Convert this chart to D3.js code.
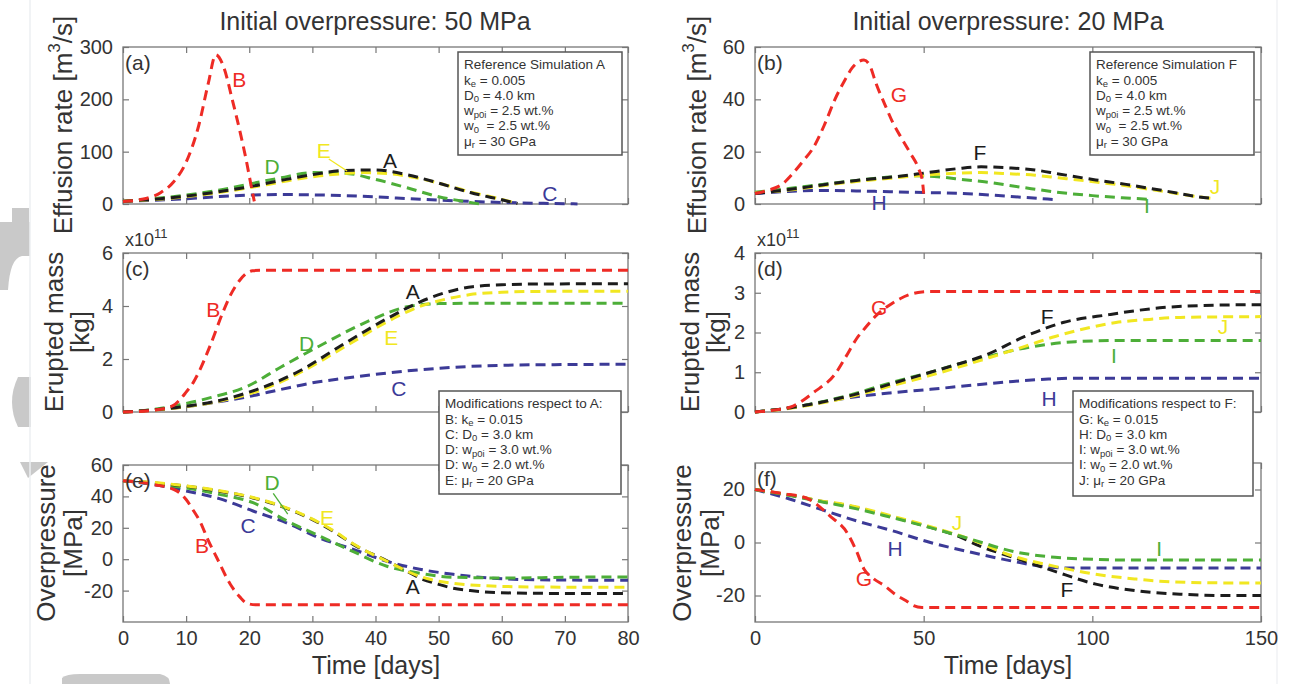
<!DOCTYPE html>
<html>
<head>
<meta charset="utf-8">
<title>Effusion rate, erupted mass and overpressure</title>
<script src="https://d3js.org/d3.v7.min.js"></script>
<style>
  body { margin: 0; background: #fff; }
  text { font-family: 'Liberation Sans', Arial, sans-serif; fill: #333; }
  .tick text { font-size: 20px; fill: #333; }
  .tick line { stroke: #777; stroke-width: 1.2px; }
</style>
</head>
<body>
<div id="chart"></div>
<script>

// ---- 50 MPa runs (A reference, B..E modified), time in days ----
var rateA = [[0,5],[10,15],[20,33],[25,45],[30,56],[35,64],[40,65],[45,56],[50,40],[55,22],[60,8],[62.5,1]];
var rateB = [[0,5],[3,9],[6,22],[8,42],[10,80],[12,150],[13.5,230],[14.7,285],[16,260],[17.3,200],[18.5,140],[19.5,85],[20.3,35],[20.8,5]];
var rateC = [[0,5],[10,10],[15,14],[20,17],[25,18],[30,17.5],[35,16],[40,13.5],[45,10.5],[50,7.5],[55,5],[60,3],[65,1.5],[70,0.7],[72,0]];
var rateD = [[0,5],[10,17],[15,26],[20,38],[25,50],[30,60],[35,59],[40,47],[45,31],[50,14],[55,3],[56.5,0]];
var rateE = [[0,5],[10,14],[20,31],[25,42],[30,52],[35,58],[38,60],[42,58],[46,51],[50,40],[55,23],[60,9],[62.5,1]];

// erupted mass, x10^11 kg
var massA = [[0,0],[5,0.08],[10,0.22],[15,0.42],[19.6,0.72],[27.5,1.49],[35.4,2.63],[41.8,3.52],[47,4.15],[51,4.5],[55.4,4.73],[60,4.8],[65,4.83],[80,4.84]];
var massB = [[0,0],[5,0.07],[8,0.25],[9,0.46],[10,0.75],[11.1,1.1],[12,1.5],[13.8,2.5],[15.8,3.75],[17,4.4],[18.5,4.97],[19.5,5.22],[20.5,5.33],[22,5.35],[80,5.35]];
var massC = [[0,0],[5,0.07],[10,0.2],[15,0.38],[19.6,0.57],[25,0.85],[30,1.1],[35,1.27],[40,1.42],[45,1.55],[50,1.65],[55,1.72],[60,1.76],[70,1.79],[80,1.8]];
var massD = [[0,0],[5,0.1],[9,0.27],[14,0.55],[19.6,0.96],[24.9,1.68],[31.2,2.5],[38.6,3.4],[45,3.97],[50,4.09],[55,4.1],[80,4.1]];
var massE = [[0,0],[5,0.07],[10,0.2],[15,0.4],[20,0.68],[27.5,1.42],[35.4,2.5],[41.8,3.4],[47,3.98],[51,4.25],[55,4.43],[60,4.52],[65,4.55],[80,4.56]];

// overpressure, MPa
var presA = [[0,50],[5,48.5],[10,46.5],[15,43.5],[20.6,39],[27,30.7],[33.8,16.6],[36.4,9.6],[41.8,-1],[45,-7.7],[47,-12],[50,-16],[52.3,-18.5],[55,-20],[61.8,-21.5],[70,-21.8],[80,-21.8]];
var presB = [[0,50],[5,47.5],[8.5,43.5],[10,38],[11,32],[12.2,24],[13.5,12],[14.9,0.6],[17,-16],[18.5,-24],[19.6,-28],[21,-29],[80,-29]];
var presC = [[0,50],[5,47.5],[10,43.5],[15.4,38.4],[20.6,30.7],[26,23],[31.2,13.4],[36.4,6.4],[41.8,-1.3],[47,-6.4],[52.3,-9.6],[61.8,-12.8],[70,-13.3],[80,-13.4]];
var presD = [[0,50],[5,48],[10,45.4],[15,41.5],[20.6,36],[26,24.3],[31.2,14.7],[36.4,5],[41.8,-4.5],[47,-8.9],[52.3,-11.5],[61.8,-12],[70,-11.5],[80,-11.3]];
var presE = [[0,50],[5,48.8],[10,46.7],[15,43.8],[20.6,39.3],[27,31],[33.8,17],[36.4,10],[41.8,-1.3],[47,-10.9],[52.3,-15.4],[61.8,-17.5],[70,-17.8],[80,-17.8]];

// ---- 20 MPa runs (F reference, G..J modified) ----
var rateF = [[0,4],[10,5.5],[20,7.3],[30,9],[40,10.2],[50,11.8],[60,13.5],[67,14.2],[75,13.8],[83,13],[90,11.5],[101,9.2],[110,7.5],[117,6],[125,4.2],[130,3],[135,2.2]];
var rateG = [[0,4],[4,5.3],[8,7.5],[11.3,11.8],[14,16],[17.5,22],[20.5,30],[23.7,40],[26.5,47],[28.8,52],[32.3,55],[34,53],[35.9,46],[38.5,38],[40.9,31],[43.5,25],[46,19.5],[48.5,13.5],[49.6,9],[50,4]];
var rateH = [[0,4],[10,4.8],[20,5.2],[30,5],[40,4.7],[50,4.4],[60,4.1],[70,3.4],[80,2.5],[90,1.6]];
var rateI = [[0,4.5],[10,5.9],[20,7.5],[30,9],[40,10.3],[48,10.8],[55,10.3],[62,9.3],[68,8.5],[80,6.2],[91,4.3],[100,3.2],[110,2.3],[117,1.8]];
var rateJ = [[0,4.2],[10,5.3],[20,7],[30,8.6],[40,9.8],[50,11],[60,11.8],[67,12],[75,11.6],[83,11],[90,10],[101,8.4],[110,7],[117,5.6],[125,4],[130,3],[135,2.2]];

var massF = [[0,0],[10,0.1],[20,0.25],[30,0.45],[40,0.7],[52,1.0],[60,1.2],[68,1.42],[80,1.9],[91.3,2.25],[105,2.45],[120,2.62],[138,2.69],[150,2.7]];
var massG = [[0,0],[5,0.04],[11.3,0.15],[17.5,0.5],[23.7,0.95],[27,1.4],[30,1.83],[33,2.15],[36.2,2.45],[39.7,2.68],[43,2.85],[46,2.96],[49.5,3.02],[52,3.03],[150,3.03]];
var massH = [[0,0],[10,0.1],[20,0.25],[27,0.35],[40,0.48],[52,0.57],[65,0.68],[76.5,0.77],[87,0.83],[95,0.85],[150,0.85]];
var massI = [[0,0],[10,0.1],[20,0.26],[30,0.47],[40,0.73],[52,1.0],[60,1.2],[68,1.37],[75,1.52],[82.7,1.65],[95,1.77],[110,1.8],[150,1.8]];
var massJ = [[0,0],[10,0.09],[20,0.23],[30,0.42],[40,0.65],[52,0.92],[60,1.12],[68,1.33],[80,1.65],[89,1.9],[98,2.1],[107,2.25],[117,2.33],[126,2.38],[150,2.4]];

var presF = [[0,20],[10,18],[20,15.5],[27.3,14],[39.7,10],[52,5.7],[60,2.5],[66.7,-1.4],[76.6,-5.6],[88.9,-10.9],[101,-15.7],[113.6,-18.3],[126,-19.5],[140,-20],[150,-20]];
var presG = [[0,20],[8,18.5],[15,16.9],[22.5,9.7],[27.3,3.7],[30,-3],[32.3,-10],[35,-13.5],[38.5,-16.4],[41.5,-19.5],[44.8,-22],[47,-23.8],[49.5,-24.5],[150,-24.5]];
var presH = [[0,20],[10,16.5],[20,12.3],[30,8.2],[40,4.7],[52,0],[64.4,-3.8],[76.6,-7.1],[85,-9],[92,-9.6],[150,-9.6]];
var presI = [[0,20],[10,17.8],[20,15.3],[27.3,13.5],[39.7,9.7],[52,5.6],[64.4,1.1],[76.6,-3.4],[88.9,-5.6],[101,-6.4],[110,-6.6],[150,-6.6]];
var presJ = [[0,20],[10,18],[20,15.6],[27.3,14.2],[39.7,10.3],[52,6],[64.4,1],[76.6,-5.2],[88.9,-9],[101,-12],[113,-13.8],[120,-14.6],[135,-15.2],[150,-15.3]];

// tick values
var ticksDays50 = [0,10,20,30,40,50,60,70,80];
var ticksDays20 = [0,50,100,150];
var ticksRate50 = [0,100,200,300];
var ticksRate20 = [0,20,40,60];
var ticksMass50 = [0,2,4,6];
var ticksMass20 = [0,1,2,3,4];
var ticksPres50 = [-20,0,20,40,60];
var ticksPres20 = [-20,0,20];

var colors = { ref: "#1c1c1c", ke: "#ee2b25", d0: "#3c3a97", wp: "#4dae38", mu: "#f1e721" };

var width = 1291, height = 684;

var svg = d3.select("#chart").append("svg")
    .attr("width", width)
    .attr("height", height);

// scan artefacts on the left margin of the original page
var bg = svg.append("g").attr("fill", "#c9c9c9");
svg.append("line").attr("x1", 30).attr("x2", 30).attr("y1", 0).attr("y2", 684).attr("stroke", "#eceff2").attr("stroke-width", 1.5);
svg.append("line").attr("x1", 1277).attr("x2", 1277).attr("y1", 0).attr("y2", 684).attr("stroke", "#f0f2f5").attr("stroke-width", 1.5);
bg.append("rect").attr("x", 12).attr("y", 208).attr("width", 17).attr("height", 25);
bg.append("path").attr("d", "M0,222 L30,222 L30,256 L22,256 Q10,258 8,290 L0,290 Z");
bg.append("path").attr("d", "M31,377 L31,427 L18,427 Q6,402 18,377 Z");
bg.append("path").attr("d", "M20,462 L48,462 L28,478 Z");
bg.append("path").attr("d", "M62,684 L62,678 Q66,674 80,674 L160,674 Q170,676 170,684 Z");

var fmt = function(d) { return String(d); };

function panel(p) {
  var x = d3.scaleLinear().domain(p.xd).range([p.x0, p.x1]);
  var y = d3.scaleLinear().domain(p.yd).range([p.y1, p.y0]);
  var g = svg.append("g");

  g.append("g").attr("transform", "translate(" + p.x0 + ",0)")
      .call(d3.axisLeft(y).tickValues(p.yt).tickSize(-6).tickPadding(10).tickFormat(fmt));
  g.append("g").attr("transform", "translate(" + p.x1 + ",0)")
      .call(d3.axisRight(y).tickValues(p.yt).tickSize(-6).tickFormat(""));
  g.append("g").attr("transform", "translate(0," + p.y0 + ")")
      .call(d3.axisTop(x).tickValues(p.xt).tickSize(-6).tickFormat(""));
  g.append("g").attr("transform", "translate(0," + p.y1 + ")")
      .call(d3.axisBottom(x).tickValues(p.xt).tickSize(-6).tickPadding(9)
        .tickFormat(p.xlabels ? fmt : ""));
  g.selectAll(".domain").remove();
  g.selectAll(".tick text").attr("font-family", null).attr("font-size", null);

  g.append("rect")
      .attr("x", p.x0).attr("y", p.y0)
      .attr("width", p.x1 - p.x0).attr("height", p.y1 - p.y0)
      .attr("fill", "none").attr("stroke", "#777").attr("stroke-width", 1.3);

  var line = d3.line()
      .x(function(d) { return x(d[0]); })
      .y(function(d) { return y(d[1]); })
      .curve(d3.curveMonotoneX);

  p.series.forEach(function(s) {
    g.append("path")
        .datum(s.data)
        .attr("d", line)
        .attr("fill", "none")
        .attr("stroke", s.color)
        .attr("stroke-width", 3)
        .attr("stroke-dasharray", "10,6");
  });

  // leader lines
  (p.leaders || []).forEach(function(l) {
    g.append("line")
        .attr("x1", x(l[0])).attr("y1", y(l[1]))
        .attr("x2", x(l[2])).attr("y2", y(l[3]))
        .attr("stroke", l[4]).attr("stroke-width", 1.3);
  });

  // curve names
  p.names.forEach(function(n) {
    g.append("text")
        .attr("x", x(n[1])).attr("y", y(n[2]))
        .attr("text-anchor", "middle")
        .attr("dominant-baseline", "central")
        .attr("font-size", 21)
        .style("fill", n[3])
        .text(n[0]);
  });

  g.append("text")
      .attr("x", p.x0 + 2).attr("y", p.y0 + 15)
      .attr("dominant-baseline", "central")
      .attr("font-size", 21)
      .text(p.letter);
}

// ---- left column (50 MPa) ----
panel({ x0: 123, x1: 628, y0: 47, y1: 204, xd: [0,80], yd: [0,300], xt: ticksDays50, yt: ticksRate50, letter: "(a)",
  series: [
    { data: rateC, color: colors.d0 }, { data: rateD, color: colors.wp }, { data: rateE, color: colors.mu },
    { data: rateA, color: colors.ref }, { data: rateB, color: colors.ke }],
  names: [["B",18.4,237,colors.ke],["A",42.3,84,colors.ref],["E",31.8,103,colors.mu],["D",23.6,71,colors.wp],["C",67.6,21,colors.d0]],
  leaders: [[32.6,86,35.5,63,colors.mu]] });

panel({ x0: 123, x1: 628, y0: 253, y1: 412, xd: [0,80], yd: [0,6], xt: ticksDays50, yt: ticksMass50, letter: "(c)",
  series: [
    { data: massC, color: colors.d0 }, { data: massD, color: colors.wp }, { data: massE, color: colors.mu },
    { data: massA, color: colors.ref }, { data: massB, color: colors.ke }],
  names: [["B",14.3,3.85,colors.ke],["A",45.9,4.53,colors.ref],["D",29.1,2.6,colors.wp],["E",42.5,2.83,colors.mu],["C",43.7,0.9,colors.d0]] });

panel({ x0: 123, x1: 628, y0: 465, y1: 622, xd: [0,80], yd: [-40,60], xt: ticksDays50, yt: ticksPres50, letter: "(e)", xlabels: true,
  series: [
    { data: presC, color: colors.d0 }, { data: presD, color: colors.wp }, { data: presA, color: colors.ref },
    { data: presE, color: colors.mu }, { data: presB, color: colors.ke }],
  names: [["D",23.6,49,colors.wp],["E",32.3,26.8,colors.mu],["C",19.8,21.7,colors.d0],["B",12.5,8.9,colors.ke],["A",45.9,-17.2,colors.ref]],
  leaders: [[23.8,42,26.1,28.7,colors.wp]] });

// ---- right column (20 MPa) ----
panel({ x0: 755, x1: 1261, y0: 47, y1: 204, xd: [0,150], yd: [0,60], xt: ticksDays20, yt: ticksRate20, letter: "(b)",
  series: [
    { data: rateH, color: colors.d0 }, { data: rateI, color: colors.wp }, { data: rateJ, color: colors.mu },
    { data: rateF, color: colors.ref }, { data: rateG, color: colors.ke }],
  names: [["G",42.7,41.7,colors.ke],["F",66.7,19.5,colors.ref],["J",136.4,6.5,colors.mu],["I",116.2,-0.4,colors.wp],["H",36.8,0.4,colors.d0]] });

panel({ x0: 755, x1: 1261, y0: 253, y1: 412, xd: [0,150], yd: [0,4], xt: ticksDays20, yt: ticksMass20, letter: "(d)",
  series: [
    { data: massH, color: colors.d0 }, { data: massI, color: colors.wp }, { data: massJ, color: colors.mu },
    { data: massF, color: colors.ref }, { data: massG, color: colors.ke }],
  names: [["G",36.8,2.62,colors.ke],["F",86.6,2.39,colors.ref],["J",138.7,2.14,colors.mu],["I",106.4,1.43,colors.wp],["H",87.2,0.35,colors.d0]] });

panel({ x0: 755, x1: 1261, y0: 463, y1: 622, xd: [0,150], yd: [-30,30], xt: ticksDays20, yt: ticksPres20, letter: "(f)", xlabels: true,
  series: [
    { data: presH, color: colors.d0 }, { data: presF, color: colors.ref }, { data: presJ, color: colors.mu },
    { data: presI, color: colors.wp }, { data: presG, color: colors.ke }],
  names: [["J",59.9,7.7,colors.mu],["H",41.5,-2.1,colors.d0],["I",119.8,-2.1,colors.wp],["G",32.3,-13.4,colors.ke],["F",92.5,-17.9,colors.ref]] });

// ---- titles and axis labels ----
function label(txt, x, y, size, rot) {
  var t = svg.append("text")
      .attr("transform", "translate(" + x + "," + y + ")" + (rot ? " rotate(-90)" : ""))
      .attr("text-anchor", "middle")
      .attr("dominant-baseline", "central")
      .attr("font-size", size);
  return t.text(txt);
}

label("Initial overpressure: 50 MPa", 375, 21, 25);
label("Initial overpressure: 20 MPa", 1008, 21, 25);
label("Time [days]", 376, 665, 25);
label("Time [days]", 1008, 665, 25);

[63, 697].forEach(function(cx) {
  var t = label("", cx, 125, 26, true);
  t.append("tspan").text("Effusion rate [m");
  t.append("tspan").attr("dy", -9).attr("font-size", 17).text("3");
  t.append("tspan").attr("dy", 9).text("/s]");
});
label("Erupted mass", 54, 332, 26, true);
label("[kg]", 80, 332, 26, true);
label("Erupted mass", 690, 332, 26, true);
label("[kg]", 716, 332, 26, true);
label("Overpressure", 46, 543, 26, true);
label("[MPa]", 73, 543, 26, true);
label("Overpressure", 682, 543, 26, true);
label("[MPa]", 710, 543, 26, true);

[125, 757].forEach(function(x0) {
  var t = svg.append("text").attr("x", x0).attr("y", 246).attr("font-size", 18).text("x10");
  t.append("tspan").attr("dy", -8).attr("font-size", 13).text("11");
});

// ---- parameter boxes ----
var refLines = [
  [["k"],["e",1],[" = 0.005"]],
  [["D"],["0",1],[" = 4.0 km"]],
  [["w"],["p0i",1],[" = 2.5 wt.%"]],
  [["w"],["0",1],["  = 2.5 wt.%"]],
  [["μ"],["r",1],[" = 30 GPa"]]
];
var modLinesA = [
  [["B: k"],["e",1],[" = 0.015"]],
  [["C: D"],["0",1],[" = 3.0 km"]],
  [["D: w"],["p0i",1],[" = 3.0 wt.%"]],
  [["D: w"],["0",1],[" = 2.0 wt.%"]],
  [["E: μ"],["r",1],[" = 20 GPa"]]
];
var modLinesF = [
  [["G: k"],["e",1],[" = 0.015"]],
  [["H: D"],["0",1],[" = 3.0 km"]],
  [["I: w"],["p0i",1],[" = 3.0 wt.%"]],
  [["I: w"],["0",1],[" = 2.0 wt.%"]],
  [["J: μ"],["r",1],[" = 20 GPa"]]
];

function box(x, y, w, h, head, lines) {
  var g = svg.append("g");
  g.append("rect").attr("x", x).attr("y", y).attr("width", w).attr("height", h)
      .attr("fill", "#fff").attr("stroke", "#555").attr("stroke-width", 1.5);
  g.append("text").attr("x", x + 6).attr("y", y + 17).attr("font-size", 13.5).text(head);
  lines.forEach(function(parts, i) {
    var t = g.append("text").attr("x", x + 6).attr("y", y + 35 + i * 15.3).attr("font-size", 13.5)
        .attr("xml:space", "preserve");
    parts.forEach(function(pt) {
      if (pt[1]) t.append("tspan").attr("dy", 2.5).attr("font-size", 9.5).text(pt[0]);
      else t.append("tspan").attr("dy", t.selectAll("tspan").size() ? -2.5 : 0).text(pt[0]);
    });
  });
}

box(458, 52, 164, 103, "Reference Simulation A", refLines);
box(1090, 52, 164, 103, "Reference Simulation F", refLines);
box(439, 391, 182, 103, "Modifications respect to A:", modLinesA);
box(1073, 391, 180, 105, "Modifications respect to F:", modLinesF);

</script>
</body>
</html>
